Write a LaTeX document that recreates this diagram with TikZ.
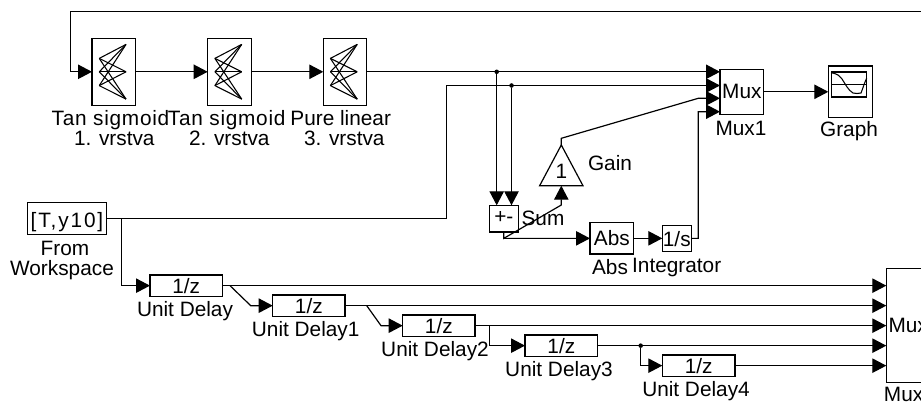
\documentclass[tikz,border=0pt]{standalone}
\usepackage{fontspec}
\setmainfont{Liberation Sans}
\usetikzlibrary{arrows.meta,shapes.geometric}
\tikzset{
  blk/.style={draw=black,line width=0.9pt,fill=white,inner sep=0pt,outer sep=0pt,text height=10pt,text depth=0pt,align=center},
  lowtext/.style={text height=12.5pt},
  uptext/.style={text height=7.16pt},
  lbl/.style={anchor=base,inner sep=0pt,outer sep=0pt},
  wire/.style={draw=black,line width=0.9pt},
  arr/.style={wire,-{Triangle[length=10.5pt,width=10.8pt,fill=black]}},
  dotj/.style={circle,fill=black,draw=none,inner sep=0pt,minimum size=3.4pt,outer sep=0pt},
  thin wire/.style={draw=black,line width=0.8pt}
}
% options, name, x1, y1, x2, y2, text (pixel corners)
\newcommand\blockbox[7][]{%
  \node[blk,#1,minimum width={(#5-#3)*0.75pt},minimum height={(#6-#4)*0.75pt}] (#2) at ({(#3+#5)/2},{(#4+#6)/2}) {#7};}
\newcommand\neticon[1]{%
  \begin{scope}[shift={(#1.center)}]
    \foreach \a in {-13.4,0,13.8}{\foreach \b in {-27.4,0,27.3}{\draw[thin wire] (-14.6,\a) -- (12.2,\b);}}
  \end{scope}}
\begin{document}
\begin{tikzpicture}[x=0.75pt,y=-0.75pt,font=\fontsize{15.6}{15.6}\selectfont]
\useasboundingbox (0,0) rectangle (921,403);
\clip (0,0) rectangle (921,403);
% blocks
\blockbox{t1}{92}{38.3}{135.7}{105.3}{}
\blockbox{t2}{207.7}{38.3}{251.3}{105.3}{}
\blockbox{t3}{323.3}{38.3}{366.7}{105.3}{}
\neticon{t1}\neticon{t2}\neticon{t3}
\blockbox{muxa}{720}{69.3}{763.7}{114.3}{Mux}
\blockbox{graph}{828.3}{66}{872.3}{117.3}{}
\node[draw=black,line width=0.9pt,inner sep=0pt,outer sep=0pt,minimum width={35.4*0.75pt},minimum height={25*0.75pt}] (screen) at (849,84.6) {};
\draw[thin wire] (screen.west) -- (screen.east);
\draw[thin wire] (831,72.7) .. controls (838,74) and (840,76) .. (842,79) .. controls (846,85) and (848,90) .. (853,93) -- (857,93.5) -- (861,93) .. controls (863,88) and (864,84) .. (866.7,78);
\blockbox[uptext]{sum}{489.3}{205.3}{518.3}{232}{+-}
\node[isosceles triangle,isosceles triangle stretches,shape border rotate=90,draw=black,line width=0.9pt,inner sep=0pt,outer sep=0pt,minimum width={43.3*0.75pt},minimum height={40.7*0.75pt},anchor=apex] (gain) at (561.3,145) {};
\node[lbl] (gaintxt) at (561.3,178.3) {1};
\blockbox{abs}{590}{222.7}{633.7}{254}{Abs}
\blockbox[lowtext]{integ}{662.3}{225.3}{691.3}{251.4}{1/s}
\blockbox[lowtext]{from}{27.3}{202.7}{106.7}{234.7}{\addfontfeature{LetterSpace=9}[T,y10]}
\blockbox[lowtext]{ud}{150}{275}{222.3}{296.3}{1/z}
\blockbox[lowtext]{uda}{272.7}{295}{345}{316.3}{1/z}
\blockbox[lowtext]{udb}{402.7}{315}{475}{336.3}{1/z}
\blockbox[lowtext]{udc}{525}{335}{597.7}{356.3}{1/z}
\blockbox[lowtext]{udd}{662.3}{355}{735}{376.3}{1/z}
\blockbox[text height=10.8pt]{muxb}{886.3}{268.3}{930}{382.7}{Mux}
% labels
\node[lbl] (l1a) at (110.5,126) {\addfontfeature{LetterSpace=3.5}Tan sigmoid};
\node[lbl] (l1b) at (114.3,145.7) {1. vrstva};
\node[lbl] (l2a) at (226.7,126) {\addfontfeature{LetterSpace=3.5}Tan sigmoid};
\node[lbl] (l2b) at (229.3,145.7) {2. vrstva};
\node[lbl] (l3a) at (340.7,126) {Pure linear};
\node[lbl] (l3b) at (344.3,145.7) {3. vrstva};
\node[lbl] (lm) at (741,135) {Mux1};
\node[lbl] (lg) at (849,137) {Graph};
\node[lbl] (lga) at (610,170.7) {Gain};
\node[lbl] (ls) at (543,225) {Sum};
\node[lbl] (la) at (610,274) {Abs};
\node[lbl] (li) at (676.7,272.3) {Integrator};
\node[lbl] (lf1) at (65,255) {From};
\node[lbl] (lf2) at (62,275) {Workspace};
\node[lbl] (lu) at (185,316.7) {Unit Delay};
\node[lbl] (lu1) at (305.7,336.7) {Unit Delay1};
\node[lbl] (lu2) at (435,356.7) {Unit Delay2};
\node[lbl] (lu3) at (559,376.7) {Unit Delay3};
\node[lbl] (lu4) at (696,396.7) {Unit Delay4};
\node[lbl] (lmb) at (903.6,401.7) {Mux};
% helper points
\coordinate (fbr) at (921,11.7);
\coordinate (fbt) at (70.3,11.7);
\coordinate (fbb) at (70.3,71.8);
\coordinate (ma) at (720,71.8);
\coordinate (mb) at (720,85.5);
\coordinate (mc) at (720,98.3);
\coordinate (md) at (720,111.7);
\node[dotj] (j1) at (496.7,71.8) {};
\node[dotj] (j2) at (511.5,85.5) {};
\coordinate (w1) at (446.5,218.7);
\coordinate (w2) at (446.5,85.5);
\coordinate (br0) at (121.5,218.7);
\coordinate (gu) at (561.3,138.3);
\coordinate (gv) at (698.3,98.3);
\coordinate (s1) at (503.8,238.35);
\coordinate (s2) at (561.3,205);
\coordinate (i1) at (698.3,238.35);
\coordinate (i2) at (698.3,111.7);
\coordinate (b1) at (230,285.65);
\coordinate (b1e) at (250.7,305.65);
\coordinate (b2) at (366.7,305.65);
\coordinate (b2e) at (381,325.65);
\coordinate (b3) at (489.3,325.65);
\coordinate (b3e) at (489.3,345.65);
\node[dotj] (j3) at (640.7,345.65) {};
\coordinate (b4e) at (640.7,365.65);
% connectors
\draw[arr] (fbr) -- (fbt) -- (fbb) -- (t1.west);
\draw[arr] (t1.east) -- (t2.west);
\draw[arr] (t2.east) -- (t3.west);
\draw[arr] (t3.east) -- (ma);
\draw[arr] (j1) -- (j1 |- sum.north);
\draw[arr] (j2) -- (j2 |- sum.north);
\draw[arr] (muxa.east) -- (muxa.east -| graph.west);
\draw[arr] (from.east) -- (w1) -- (w2) -- (mb);
\draw[arr] (br0) |- (ud.west);
\draw[arr] (gain.apex) -- (gu) -- (gv) -- (mc);
\draw[arr] (sum.south) -- (s1) -- (s2) -- (561.3,185.7);
\draw[arr] (s1) -- (abs.west);
\draw[arr] (abs.east) -- (integ.west);
\draw[arr] (integ.east) -- (i1) -- (i2) -- (md);
\draw[arr] (ud.east) -- (ud.east -| muxb.west);
\draw[arr] (b1) -- (b1e) -- (uda.west);
\draw[arr] (uda.east) -- (uda.east -| muxb.west);
\draw[arr] (b2) -- (b2e) -- (udb.west);
\draw[arr] (udb.east) -- (udb.east -| muxb.west);
\draw[arr] (b3) -- (b3e) -- (udc.west);
\draw[arr] (udc.east) -- (udc.east -| muxb.west);
\draw[arr] (j3) -- (b4e) -- (udd.west);
\draw[arr] (udd.east) -- (udd.east -| muxb.west);
\end{tikzpicture}
\end{document}
